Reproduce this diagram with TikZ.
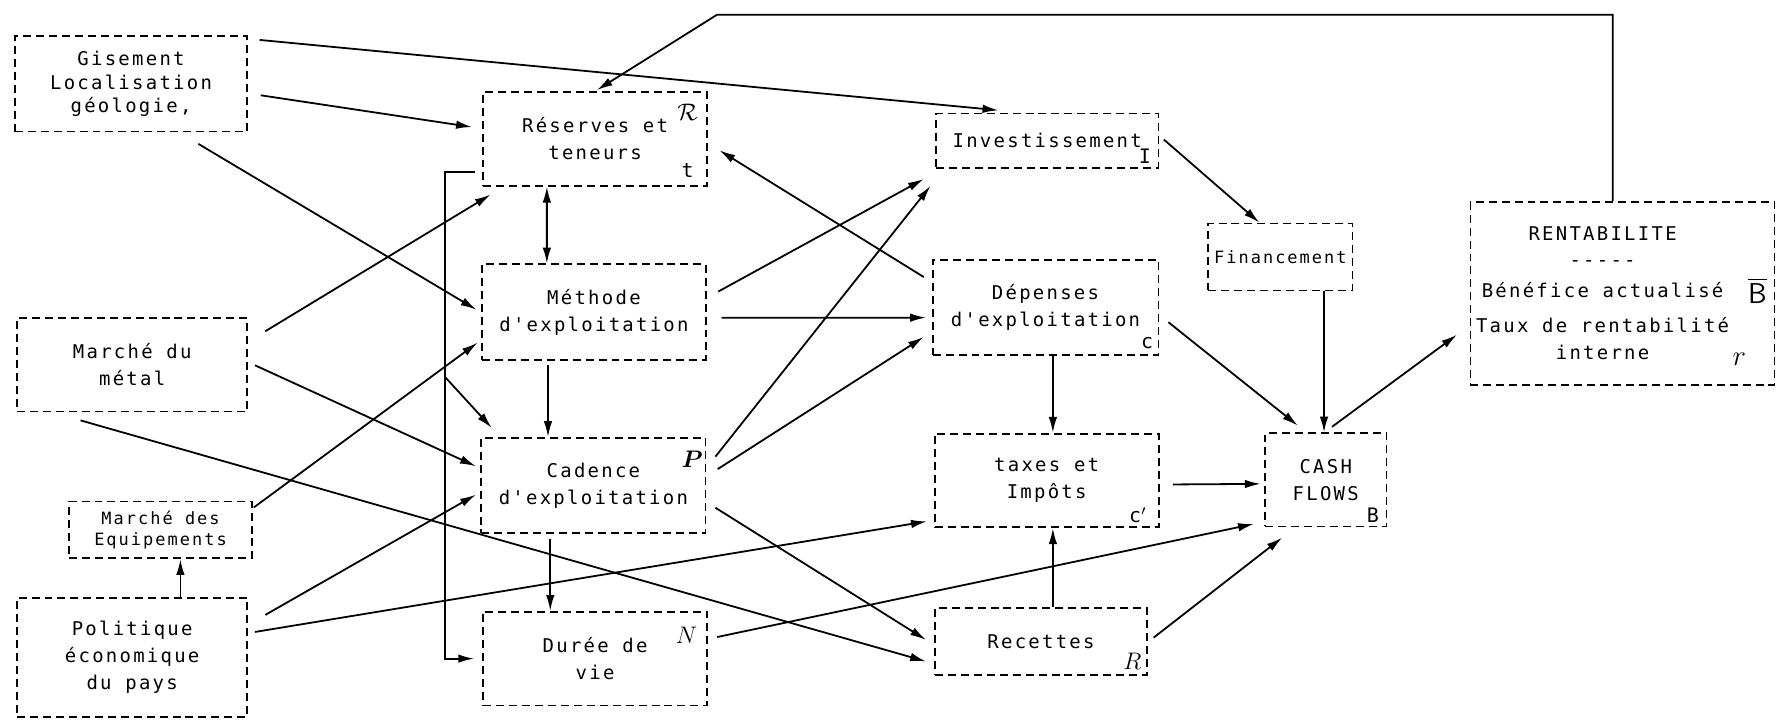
\documentclass[tikz,border=0pt]{standalone}
\usepackage{amsmath}
\usepackage{fontspec}
\usetikzlibrary{arrows.meta}
\newfontfamily\dotfont[LetterSpace=12]{DejaVu Sans Mono}

\begin{document}
\begin{tikzpicture}[
  box/.style={draw,line width=0.9pt,dash pattern=on 4pt off 2.5pt,align=center,
    minimum width=3.95cm,minimum height=1.65cm,inner sep=1pt,
    font=\dotfont\fontsize{9.5}{13.5}\selectfont},
  small/.style={font=\dotfont\fontsize{8.5}{10.2}\selectfont},
  tag/.style={inner sep=0pt,font=\dotfont\fontsize{10}{12}\selectfont},
  arr/.style={-{Latex[length=2.8mm,width=1.5mm]},line width=0.9pt}]
\useasboundingbox (0,0) rectangle (31.36,12.68);

\draw (2.31,11.20) node[box,minimum width=4.10cm,minimum height=1.68cm,
  font=\dotfont\fontsize{9.5}{11.6}\selectfont](gis) {Gisement\\Localisation\\géologie,};
\draw (2.33,6.25) node[box,minimum width=4.06cm](met) {Marché du\\métal};
\draw (2.83,3.34) node[box,small,minimum width=3.22cm,minimum height=1.0cm](equ) {Marché des\\Equipements};
\draw (2.33,1.09) node[box,minimum width=4.06cm,minimum height=2.10cm](pol) {Politique\\économique\\du pays};

\draw (10.49,10.23) node[box](res) {Réserves et\\teneurs};
\draw (10.47,7.18) node[box,minimum height=1.68cm](meth) {Méthode\\d'exploitation};
\draw (10.46,4.12) node[box,minimum height=1.68cm](cad) {Cadence\\d'exploitation};
\draw (10.49,1.07) node[box](dur) {Durée de\\vie};

\draw (18.46,10.20) node[box,minimum width=3.92cm,minimum height=0.96cm](inv) {Investissement};
\draw (18.43,7.26) node[box,minimum width=3.98cm,minimum height=1.68cm](dep) {Dépenses\\d'exploitation};
\draw (18.45,4.21) node[box](tax) {taxes et\\Impôts};
\draw (18.35,1.37) node[box,minimum width=3.74cm,minimum height=1.18cm](rec) {Recettes};

\draw (22.57,8.15) node[box,small,minimum width=2.54cm,minimum height=1.18cm](fin) {Financement};
\draw (23.37,4.22) node[box,minimum width=2.14cm,minimum height=1.64cm](cash) {CASH\\FLOWS};
\draw (28.60,7.51) node[box,minimum width=5.36cm,minimum height=3.22cm](rent)
  {RENTABILITE\rule{7mm}{0pt}\\[-0.5pt]-----\rule{7mm}{0pt}\\[2pt]Bénéfice actualisé\rule{7mm}{0pt}\\[4pt]Taux de rentabilité\rule{7mm}{0pt}\\interne\rule{7mm}{0pt}};

\draw (12.12,10.70) node[tag,font=\large](resR) {$\mathcal{R}$};
\draw (12.12,9.68) node[tag](resT) {t};
\draw (12.20,4.58) node[tag,font=\large](cadP) {$\boldsymbol{P}$};
\draw (12.10,1.48) node[tag,font=\large](durN) {$N$};
\draw (20.18,9.92) node[tag](invI) {I};
\draw (20.22,6.64) node[tag](depC) {c};
\draw (20.06,3.60) node[tag](taxC) {c$'$};
\draw (19.96,1.02) node[tag,font=\large](recR) {$R$};
\draw (24.20,3.60) node[tag](cashB) {B};
\draw (30.98,7.56) node[tag,font=\Large](rentB) {$\overline{\textsf{B}}$};
\draw (30.66,6.34) node[tag,font=\Large](rentR) {$r$};

\coordinate (bend) at (7.84,6.04);
\coordinate (fbk) at (12.64,12.42);

\draw[arr] ([shift={(0.2,-0.08)}]gis.north east) -- ([shift={(-0.86,0.04)}]inv.north);
\draw[arr] ([shift={(0.22,-0.2)}]gis.east) -- ([shift={(-0.18,0.21)}]res.west);
\draw[arr] ([shift={(-0.88,-0.2)}]gis.south east) -- ([shift={(-0.08,0.04)}]meth.west);
\draw[arr] ([shift={(0.3,0.59)}]met.east) -- ([shift={(0.15,-0.14)}]res.south west);
\draw[arr] ([shift={(0.12,-0.01)}]met.east) -- ([shift={(-0.08,0.34)}]cad.west);
\draw[arr] ([shift={(-0.91,-0.14)}]met.south) -- ([shift={(-0.14,-0.35)}]rec.west);
\draw[arr] ([shift={(0.02,-0.12)}]equ.north east) -- ([shift={(-0.06,-0.54)}]meth.west);
\draw[arr] ([xshift=0.85cm]pol.north) -- ([xshift=0.85cm]pol.north |- equ.south);
\draw[arr] ([shift={(0.3,0.75)}]pol.east) -- ([shift={(-0.08,-0.16)}]cad.west);
\draw[arr] ([shift={(0.12,0.45)}]pol.east) -- ([shift={(-0.12,0.12)}]tax.south west);

\draw[arr] ([shift={(-0.12,0.26)}]res.south west) -| (bend) |- ([xshift=-0.14cm]dur.west);
\draw[arr] (bend) -- ([shift={(0.2,0.16)}]cad.north west);
\draw[{Latex[length=2.8mm,width=1.5mm]}-{Latex[length=2.8mm,width=1.5mm]},line width=0.9pt]
  ([xshift=-0.85cm]res.south) -- ([xshift=-0.83cm]meth.north);
\draw[arr] ([xshift=-0.81cm,yshift=-0.08cm]meth.south) -- ([xshift=-0.80cm]cad.north);
\draw[arr] ([xshift=-0.76cm,yshift=-0.08cm]cad.south) -- ([xshift=-0.79cm]dur.north);

\draw[arr] ([shift={(0.2,0.36)}]meth.east) -- ([shift={(-0.2,-0.18)}]inv.south west);
\draw[arr] ([shift={(0.26,-0.1)}]meth.east) -- ([shift={(-0.1,-0.18)}]dep.west);
\draw[arr] ([shift={(0.16,0.51)}]cad.east) -- ([shift={(-0.08,-0.30)}]inv.south west);
\draw[arr] ([shift={(0.2,0.29)}]cad.east) -- ([shift={(-0.14,-0.52)}]dep.west);
\draw[arr] ([shift={(0.16,-0.39)}]cad.east) -- ([shift={(-0.14,0.03)}]rec.west);
\draw[arr] ([shift={(-0.14,-0.32)}]dep.north west) -- ([shift={(0.2,-0.2)}]res.east);
\draw[arr] ([shift={(0.16,0.38)}]dur.east) -- ([shift={(-0.18,0.06)}]cash.south west);

\draw[arr] ([shift={(0.08,0.02)}]inv.east) -- ([xshift=-0.37cm]fin.north);
\draw[arr] ([xshift=0.77cm]fin.south) -- ([xshift=0.77cm]fin.south |- cash.north);
\draw[arr] ([shift={(0.16,-0.26)}]dep.east) -- ([shift={(-0.49,0.12)}]cash.north);
\draw[arr] ([xshift=0.13cm]dep.south) -- ([xshift=0.13cm]dep.south |- tax.north);
\draw[arr] ([shift={(0.24,-0.07)}]tax.east) -- ([shift={(-0.06,-0.07)}]cash.west);
\draw[arr] ([xshift=0.21cm]rec.north) -- ([xshift=0.21cm]rec.north |- tax.south);
\draw[arr] ([shift={(0.1,0.07)}]rec.east) -- ([shift={(0.32,-0.18)}]cash.south west);
\draw[arr] ([shift={(0.11,0.1)}]cash.north) -- ([shift={(-0.22,-0.73)}]rent.west);
\draw[arr] ([xshift=-0.17cm]rent.north) |- (fbk) -- ([shift={(0.03,0.02)}]res.north);
\end{tikzpicture}
\end{document}
